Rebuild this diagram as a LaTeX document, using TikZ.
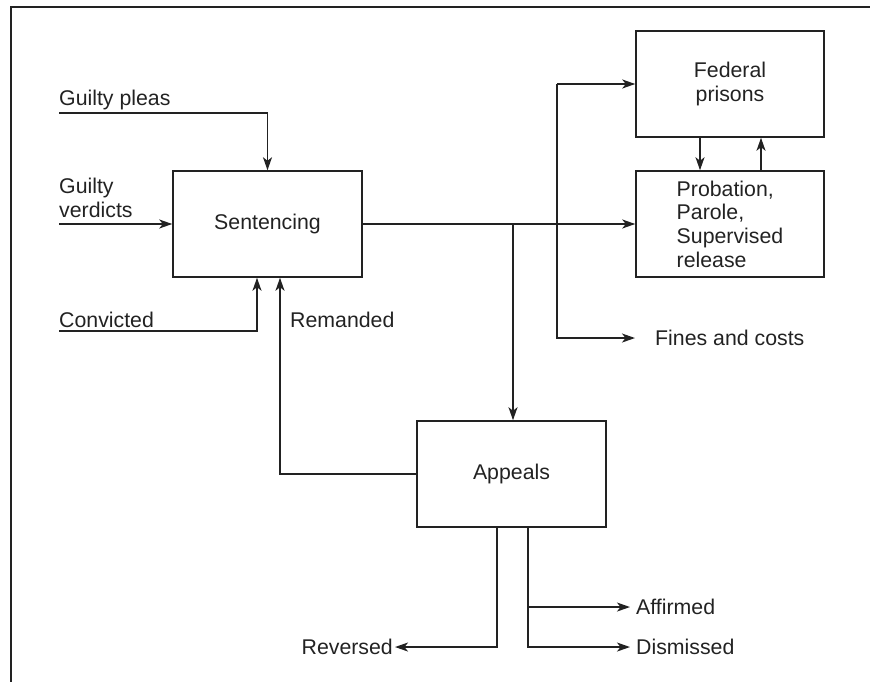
\documentclass[tikz,border=0pt]{standalone}
\usepackage{fontspec}
\setmainfont{Liberation Sans}
\usetikzlibrary{arrows.meta,calc}
\definecolor{ink}{HTML}{222222}
\begin{document}
\begin{tikzpicture}[x=1pt,y=-1pt,
  every node/.style={font=\fontsize{21.3}{23.7}\selectfont, text=ink},
  box/.style={draw=ink, line width=1.5pt, minimum width=189pt, minimum height=106pt, inner sep=0pt, align=center},
  lbl/.style={inner sep=0pt},
  arr/.style={draw=ink, line width=1.5pt, -{Stealth[length=13pt,width=9pt,inset=3.5pt]}},
  frame/.style={draw=ink, line width=2.2pt}]
\useasboundingbox (0,0) rectangle (870,682);
\draw[frame] (872,7) -- (11,7) -- (11,690);

% boxes
\node[box] (sent) at (267.5,224) {Sentencing};
\node[box, minimum width=188pt] (fed) at (730,84) {Federal\\prisons};
\node[box, minimum width=188pt, align=left] (prob) at (730,224) {Probation,\\Parole,\\Supervised\\release};
\node[box] (app) at (511.5,474) {Appeals};

% labels
\node[lbl, anchor=base west] (gp) at (59,106) {Guilty pleas};
\node[lbl, anchor=south west, align=left] (gv) at (59,218) {Guilty\\verdicts};
\node[lbl, anchor=base west] (cv) at (59,327) {Convicted};
\node[lbl, anchor=base west] (rem) at (290,327) {Remanded};
\node[lbl, anchor=mid west] (fines) at (655,343) {Fines and costs};
\node[lbl, anchor=mid east] (rev) at (393,652) {Reversed};
\node[lbl, anchor=mid west] (aff) at (636,612) {Affirmed};
\node[lbl, anchor=mid west] (dis) at (636,652) {Dismissed};

% connectors
\coordinate (gpS) at (59,113);
\draw[arr] (gpS) -| (sent.north);
\coordinate (gvS) at (59,224);
\draw[arr] (gvS) -- (sent.west);
\coordinate (cvS) at (59,331);
\draw[arr] (cvS) -| ([xshift=-10.5pt]sent.south);
\draw[arr] (app.west) -| ([xshift=12.5pt]sent.south);
\draw[arr] (sent.east) -- (prob.west);
\coordinate (br) at (513,224);
\draw[arr] (br) -- (br |- app.north);
\coordinate (jn) at (557,84);
\draw[arr] (jn) -- (fed.west);
\draw[arr] (jn) |- ([xshift=-20pt]fines.west);
\draw[arr] ([xshift=-30pt]fed.south) -- ([xshift=-30pt]prob.north);
\draw[arr] ([xshift=31pt]prob.north) -- ([xshift=31pt]fed.south);
\coordinate (appL) at ([xshift=-14.5pt]app.south);
\coordinate (appR) at ([xshift=16.5pt]app.south);
\draw[arr] (appL) |- ([xshift=2pt]rev.east);
\draw[arr] (appR) |- ([xshift=-6pt]dis.west);
\draw[arr] (appR |- aff.west) -- ([xshift=-6pt]aff.west);
\end{tikzpicture}
\end{document}
